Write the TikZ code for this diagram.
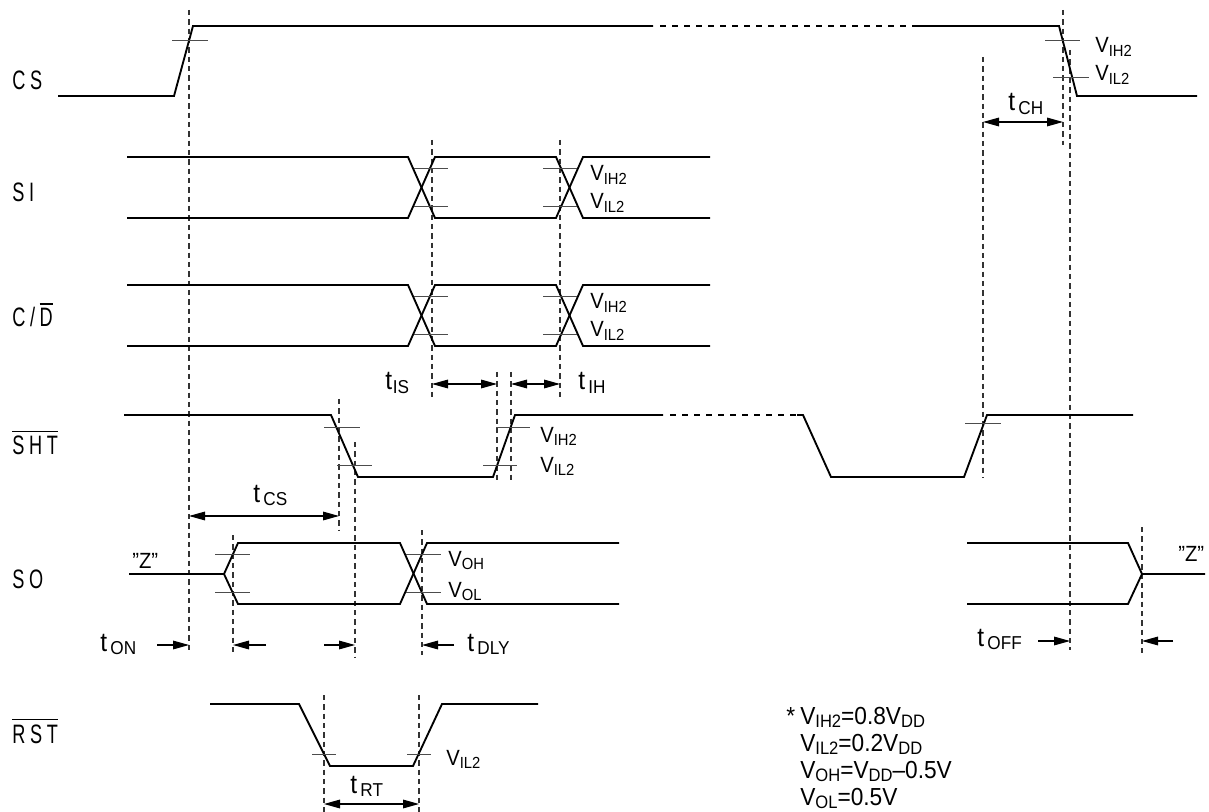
\documentclass[tikz,border=0pt]{standalone}
\usepackage{graphicx}
\usepackage{fontspec}
\setmainfont{Liberation Sans}[FakeStretch=0.92]
\newfontfamily\narrowfont{Liberation Sans}[FakeStretch=0.68]
\usetikzlibrary{arrows.meta,positioning,calc}
\newcommand{\lsp}{\kern3.5pt}
\newcommand{\ovbar}[1]{\vbox{\hrule height 1.2pt\kern3pt\hbox{#1}}}
\newcommand{\vsub}[1]{V\raisebox{-0.15em}{\scalebox{0.73}{#1}}}
\newcommand{\tsub}[2][2.5pt]{t\kern#1\raisebox{-0.13em}{\scalebox{0.7}{#2}}}

\begin{document}
\begin{tikzpicture}[x=0.75pt, y={(0pt,-0.75pt)}, font=\fontsize{16.5}{16.5}\selectfont,
  sig/.style={line width=1.4pt},
  gapline/.style={sig, dash pattern=on 4.5pt off 4.5pt},
  tick/.style={line width=0.7pt, black!70},
  guide/.style={line width=0.8pt, black!80, dash pattern=on 4pt off 3pt},
  dim/.style={{Triangle[length=12pt,width=6.5pt]}-{Triangle[length=12pt,width=6.5pt]}, line width=0.8pt},
  pointer/.style={-{Triangle[length=12pt,width=6.5pt]}, line width=0.8pt},
  sname/.style={anchor=base west, inner sep=0pt, font=\narrowfont\fontsize{20}{20}\selectfont},
  vl/.style={anchor=base west, inner sep=0pt},
  tl/.style={anchor=base west, inner sep=0pt, font=\fontsize{20}{20}\selectfont},
  note/.style={anchor=base west, inner sep=0pt, font=\fontsize{18.5}{18.5}\selectfont}]
\useasboundingbox (0,0) rectangle (1209,812);

% signal names
\node[sname] (cs)  at (12,90)  {C\lsp S};
\node[sname] (si)  at (12,202) {S\lsp I};
\node[sname] (cd)  at (12,327) {C\lsp/\lsp\ovbar{D}};
\node[sname] (sht) at (12,455) {\ovbar{S\lsp H\lsp T}};
\node[sname] (so)  at (12,588) {S\lsp O};
\node[sname] (rst) at (12,743) {\ovbar{R\lsp S\lsp T}};

% guide lines
\foreach \x/\ya/\yb in {189/10/652, 1063/10/145, 1070/50/650, 983/57/478,
    432/140/400, 560/140/400, 497/372/482, 511/372/482, 339/399/530,
    355/442/658, 233/535/652, 422/530/655, 1142/527/653, 324/695/812, 419/695/812}
  \draw[guide] (\x,\ya) -- (\x,\yb);

% CS
\draw[sig] (58,96) -- (174,96) -- (193,26) -- (653,26);
\draw[gapline] (660,26) -- (915,26);
\draw[sig] (915,26) -- (1059,26) -- (1077,96) -- (1197,96);
\draw[tick] (172,40) -- (208,40) (1045,40) -- (1080,40) (1053,77) -- (1089,77);
\node[vl] (csvih) at (1095,53) {\vsub{IH2}};
\node[vl] (csvil) at (1095,81) {\vsub{IL2}};

% SI and C/D
\foreach \d/\nm in {0/si, 128/cd} {
  \draw[sig] (127,157+\d) -- (408,157+\d) -- (435,218+\d) -- (556,218+\d) -- (583,157+\d) -- (710,157+\d);
  \draw[sig] (127,218+\d) -- (408,218+\d) -- (435,157+\d) -- (556,157+\d) -- (583,218+\d) -- (710,218+\d);
  \draw[tick] (414,168+\d) -- (448,168+\d) (543,168+\d) -- (577,168+\d)
              (414,206+\d) -- (448,206+\d) (543,206+\d) -- (577,206+\d);
  \node[vl] (\nm vih) at (590,181+\d) {\vsub{IH2}};
  \node[vl] (\nm vil) at (590,209+\d) {\vsub{IL2}};
}

% SHT
\draw[sig] (124,415) -- (331,415) -- (358,477) -- (493,477) -- (515,415) -- (663,415);
\draw[gapline] (670,415) -- (797,415);
\draw[sig] (797,415) -- (803,415) -- (831,477) -- (964,477) -- (987,415) -- (1133,415);
\draw[tick] (324,427) -- (360,427) (337,465) -- (372,465)
            (496,427) -- (530,427) (483,465) -- (517,465) (965,423) -- (1001,423);
\node[vl] (shtvih) at (540,442) {\vsub{IH2}};
\node[vl] (shtvil) at (540,472) {\vsub{IL2}};

% SO
\draw[sig] (129,574) -- (224,574) -- (238,543) -- (400,543) -- (427,604) -- (619,604);
\draw[sig] (224,574) -- (238,604) -- (400,604) -- (427,543) -- (619,543);
\draw[sig] (967,543) -- (1128,543) -- (1142,574) -- (1205,574);
\draw[sig] (967,604) -- (1128,604) -- (1142,574);
\draw[tick] (215,554) -- (250,554) (215,592) -- (250,592)
            (406,554) -- (441,554) (406,592) -- (441,592);
\node[vl] (zl) at (132,568) {"Z"};
\node[vl] (zr) at (1178,561) {"Z"};
\node[vl] (voh) at (448,566) {\vsub{OH}};
\node[vl] (vol) at (448,597) {\vsub{OL}};

% RST
\draw[sig] (210,704) -- (299,704) -- (330,766) -- (413,766) -- (442,704) -- (538,704);
\draw[tick] (312,754) -- (336,754) (407,754) -- (431,754);
\node[vl] (rstvil) at (446,765) {\vsub{IL2}};

% timing arrows
\coordinate (isL) at (432,384); \coordinate (isR) at (497,384);
\coordinate (ihL) at (511,384); \coordinate (ihR) at (560,384);
\coordinate (csL) at (189,516); \coordinate (csR) at (339,516);
\coordinate (chL) at (983,122); \coordinate (chR) at (1063,122);
\coordinate (rtL) at (324,804); \coordinate (rtR) at (419,804);
\draw[dim] (isL) -- (isR);
\draw[dim] (ihL) -- (ihR);
\draw[dim] (csL) -- (csR);
\draw[dim] (chL) -- (chR);
\draw[dim] (rtL) -- (rtR);
\coordinate (onA) at (157,645);  \coordinate (onB) at (189,645);
\coordinate (zA) at (266,645);   \coordinate (zB) at (233,645);
\coordinate (shA) at (324,645);  \coordinate (shB) at (355,645);
\coordinate (dlA) at (454,645);  \coordinate (dlB) at (422,645);
\coordinate (ofA) at (1038,641); \coordinate (ofB) at (1070,641);
\coordinate (ofC) at (1173,641); \coordinate (ofD) at (1142,641);
\draw[pointer] (onA) -- (onB);
\draw[pointer] (zA) -- (zB);
\draw[pointer] (shA) -- (shB);
\draw[pointer] (dlA) -- (dlB);
\draw[pointer] (ofA) -- (ofB);
\draw[pointer] (ofC) -- (ofD);

\node[tl] (tis)  at (385,390)  {\tsub[0.5pt]{IS}};
\node[tl] (tih)  at (578,390)  {\tsub{IH}};
\node[tl] (tcs)  at (253,502)  {\tsub{CS}};
\node[tl] (tch)  at (1008,111) {\tsub{CH}};
\node[tl] (ton)  at (100,651)  {\tsub{ON}};
\node[tl] (tdly) at (467,651)  {\tsub{DLY}};
\node[tl] (toff) at (977,646)  {\tsub{OFF}};
\node[tl] (trt)  at (350,793)  {\tsub{RT}};

% note
\node[note] (star) at (786,724) {*};
\foreach \txt [count=\i] in {{\vsub{IH2}=0.8\vsub{DD}}, {\vsub{IL2}=0.2\vsub{DD}},
    {\vsub{OH}=\vsub{DD}--0.5V}, {\vsub{OL}=0.5V}}
  \node[note] (note\i) at (800,697+27*\i) {\txt};
\end{tikzpicture}
\end{document}
